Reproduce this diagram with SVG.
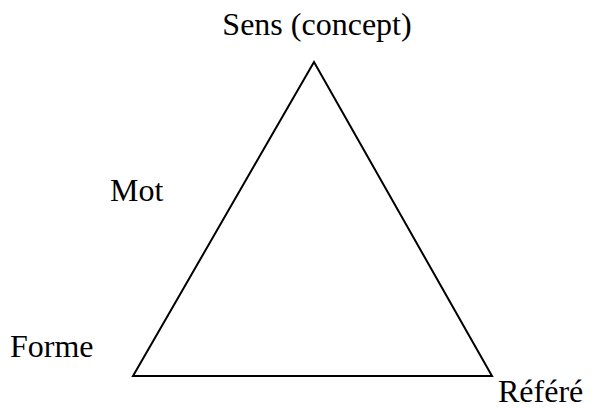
<svg xmlns="http://www.w3.org/2000/svg" width="601" height="408" viewBox="0 0 601 408">
<style>
text{font-family:'Liberation Serif','Times New Roman',serif;font-size:32px;fill:#000}
.tri{fill:none;stroke:#000;stroke-width:2;stroke-linejoin:miter}
</style>
<rect width="601" height="408" fill="#fff"/>
<g id="triangle"><polygon class="tri" points="314,62 133,376 492,376"/></g>
<g id="sens"><text x="317" y="35" text-anchor="middle">Sens (concept)</text></g>
<g id="mot"><text x="110" y="201">Mot</text></g>
<g id="forme"><text x="10" y="357">Forme</text></g>
<g id="refere"><text x="498" y="402">Référé</text></g>
</svg>
